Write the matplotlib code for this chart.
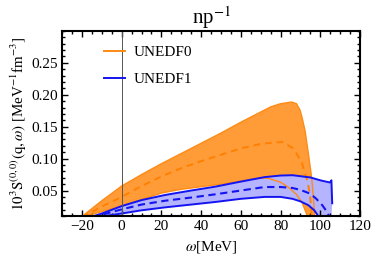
import matplotlib
matplotlib.use("Agg")
from matplotlib import pyplot as plt
from matplotlib.ticker import MultipleLocator

plt.rcParams['font.family'] = ['Liberation Serif', 'DejaVu Serif']
plt.rcParams['mathtext.fontset'] = 'stix'

# UNEDF0 band (omega in MeV, 10^3 S)
o_up_w = [-20.5, -10, 0, 10, 20, 30, 40, 50, 60, 70, 75, 80, 85.6, 88, 89.8, 91, 92.3, 94, 95.7, 96.5, 97.2]
o_up_v = [0.008, 0.034, 0.057, 0.075, 0.092, 0.108, 0.124, 0.140, 0.157, 0.173, 0.181, 0.186, 0.1886, 0.186, 0.176, 0.162, 0.144, 0.108, 0.069, 0.040, 0.005]
o_lo_w = [-20.5, -10, 0, 10, 20, 30, 40, 50, 60, 70, 74, 80, 84, 88, 91, 93.5, 94.2]
o_lo_v = [0.008, 0.017, 0.026, 0.036, 0.046, 0.052, 0.056, 0.060, 0.065, 0.070, 0.069, 0.063, 0.055, 0.044, 0.030, 0.010, 0.004]
o_mid_w = [-20, -10, 0, 10, 20, 30, 40, 47, 60, 70, 75, 81, 86.4, 90.6, 93.1, 94.8, 95.8]
o_mid_v = [0.008, 0.025, 0.040, 0.057, 0.072, 0.085, 0.096, 0.103, 0.116, 0.123, 0.1246, 0.126, 0.116, 0.095, 0.069, 0.0455, 0.006]

# UNEDF1 band
b_up_w = [-16, -10, 0, 10, 21.8, 35, 47, 60, 72, 80, 86, 95, 100, 104.8, 105.6, 106]
b_up_v = [0.008, 0.014, 0.0256, 0.035, 0.043, 0.050, 0.056, 0.064, 0.071, 0.0735, 0.074, 0.0705, 0.066, 0.0626, 0.066, 0.030]
b_lo_w = [-13, 0, 10, 21.8, 35, 47, 60, 72, 80, 86, 90, 94, 97, 99.8]
b_lo_v = [0.008, 0.014, 0.019, 0.0236, 0.028, 0.032, 0.037, 0.040, 0.040, 0.037, 0.033, 0.027, 0.019, 0.006]
b_mid_w = [-15, -10, 0, 10, 21.8, 35, 47, 60, 72, 80, 86, 90, 95, 98, 101, 103.5, 105.2]
b_mid_v = [0.008, 0.012, 0.0205, 0.028, 0.034, 0.039, 0.044, 0.050, 0.0555, 0.0555, 0.054, 0.051, 0.045, 0.037, 0.027, 0.016, 0.004]

orange = '#FF8A14'
orange_dash = '#FF8000'
orange_fill = '#FF9C38'
blue = '#1414F0'
blue_fill = '#B4B4FF'

fig = plt.figure(figsize=(3.74, 2.6), dpi=100)
ax = fig.add_axes([0.166, 0.169, 0.7966, 0.712])

ax.fill(o_up_w + o_lo_w[::-1], o_up_v + o_lo_v[::-1], color=orange_fill, lw=0)
ax.plot(o_up_w, o_up_v, color=orange, lw=1.0)
ax.fill(b_up_w + [105.5] + b_lo_w[::-1], b_up_v + [0.0] + b_lo_v[::-1], color=blue_fill, lw=0)
ax.plot(o_lo_w, o_lo_v, color=orange, lw=1.0)
ax.plot(o_mid_w, o_mid_v, color=orange_dash, lw=1.4, dashes=(3.5, 2.5))
ax.plot(b_up_w, b_up_v, color=blue, lw=1.4)
ax.plot(b_lo_w, b_lo_v, color=blue, lw=1.4)
ax.plot(b_mid_w, b_mid_v, color=blue, lw=1.5, dashes=(3.5, 2.2))
ax.axvline(0, color='#555555', lw=0.7)

# legend handles
ax.plot([], [], color=orange, lw=1.4, label='UNEDF0')
ax.plot([], [], color=blue, lw=1.4, label='UNEDF1')
handles, labels = ax.get_legend_handles_labels()
ax.legend(handles[-2:], labels[-2:], loc='upper left', bbox_to_anchor=(0.14, 0.92),
          frameon=False, fontsize=11, handlelength=1.4, handletextpad=0.55,
          labelspacing=0.85, borderpad=0, borderaxespad=0)

ax.set_xlim(-30, 120)
ax.set_ylim(0.01, 0.3)
ax.xaxis.set_major_locator(MultipleLocator(20))
ax.xaxis.set_minor_locator(MultipleLocator(5))
ax.yaxis.set_major_locator(MultipleLocator(0.05))
ax.yaxis.set_minor_locator(MultipleLocator(0.01))
ax.set_yticks([0.05, 0.10, 0.15, 0.20, 0.25])
ax.set_yticklabels(['0.05', '0.10', '0.15', '0.20', '0.25'])
ax.tick_params(which='both', direction='in', top=True, right=True, labelsize=11, width=1.0, pad=3)
ax.tick_params(which='major', length=4)
ax.tick_params(which='minor', length=2)
for s in ax.spines.values():
    s.set_linewidth(1.5)

ax.set_title('np$^{-1}$', fontsize=15, pad=4)
ax.set_xlabel(r'$\omega$[MeV]', fontsize=11, labelpad=4)
ax.set_ylabel(r'$10^3\mathrm{S}^{(0,0)}(\mathrm{q},\omega)$ [MeV$^{-1}$fm$^{-3}$]', fontsize=10.8, labelpad=2)

fig.savefig('out.png', dpi=100)
